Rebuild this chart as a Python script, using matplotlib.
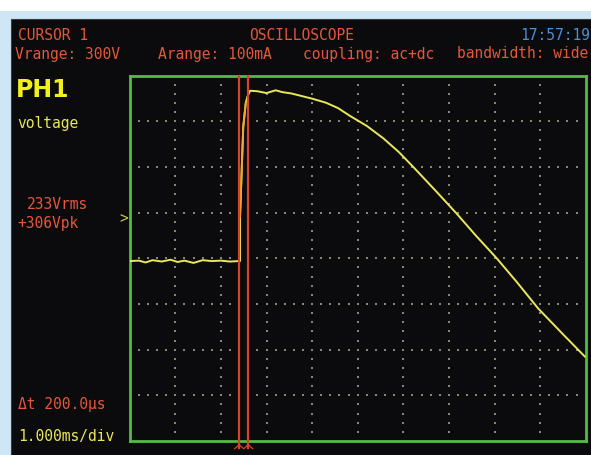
import matplotlib
matplotlib.use('Agg')
import matplotlib.pyplot as plt
from matplotlib.patches import Rectangle
import numpy as np

W, H = 591, 455

# trace: time in ms (1 ms/div), amplitude in divisions
t_ms = [0.0, 0.2, 0.35, 0.5, 0.7, 0.9, 1.05, 1.2, 1.4, 1.6, 1.8, 2.0, 2.2, 2.38,
        2.42, 2.42, 2.46, 2.49, 2.545, 2.58, 2.64, 2.8, 3.0, 3.2, 3.35, 3.55,
        3.99, 4.3, 4.57, 4.83, 5.2, 5.56, 5.9, 6.22, 6.7, 7.17, 7.59, 8.05, 8.49,
        8.96, 9.48, 9.98]
amp_div = [-0.06, -0.05, -0.09, -0.04, -0.07, -0.03, -0.08, -0.05, -0.1, -0.04,
           -0.06, -0.05, -0.07, -0.06,
           -0.06, 0.91, 2.04, 2.88, 3.40, 3.54, 3.67, 3.66, 3.62, 3.68, 3.64, 3.61,
           3.50, 3.41, 3.29, 3.12, 2.90, 2.63, 2.33, 2.00, 1.49, 0.98, 0.50, 0.0,
           -0.52, -1.10, -1.64, -2.15]

cursors_ms = [2.40, 2.60]

header = ['CURSOR 1', 'OSCILLOSCOPE', '17:57:19']
settings = ['Vrange: 300V', 'Arange: 100mA', 'coupling: ac+dc', 'bandwidth: wide']
readout = ['233Vrms', '+306Vpk']

RED = '#e4573b'
YEL = '#e9e85a'
GRN = '#4fbf3f'
DOT = '#7f8c70'

fig = plt.figure(figsize=(W / 100, H / 100), dpi=100)
fig.patch.set_facecolor('white')


def px(x, y):
    return x / W, 1 - y / H


# light blue frame and black screen
fig.patches.append(Rectangle((0, 0), 1, 1 - 11 / H, transform=fig.transFigure,
                             facecolor='#cfe6f7', edgecolor='none', zorder=-2))
fig.patches.append(Rectangle((11 / W, 0), 1, 1 - 19 / H, transform=fig.transFigure,
                             facecolor='#0b0b0d', edgecolor='#3a3a3a', lw=0.8, zorder=-1))

left, top, right, bottom = 129.7, 75.7, 585.7, 441.0
ax = fig.add_axes([left / W, 1 - bottom / H, (right - left) / W, (bottom - top) / H])
ax.set_zorder(2)
ax.set_facecolor('#0b0b0d')
ax.set_xlim(0, 10)
ax.set_ylim(-4, 4)
ax.set_xticks([])
ax.set_yticks([])
for s in ax.spines.values():
    s.set_color(GRN)
    s.set_linewidth(2)

# dotted graticule
steps = np.arange(0.2, 10, 0.2)
for gx in range(1, 10):
    ys = steps[steps < 8] - 4
    ax.plot(np.full_like(ys, gx), ys, 's', ms=1.6, color=DOT, mew=0)
for gy in range(-3, 4):
    ax.plot(steps, np.full_like(steps, gy), 's', ms=1.6, color=DOT, mew=0)

# trace
ax.plot(t_ms, amp_div, color=YEL, lw=1.4, zorder=3)
ax.plot(t_ms[15:19], amp_div[15:19], color='#f2a52a', lw=1.4, zorder=4)

# cursors
for c in cursors_ms:
    ax.plot([c, c], [4, -4.15], color='#d2442c', lw=1.6, zorder=5, clip_on=False)
cm = sum(cursors_ms) / 2
ax.plot([cm - 0.2, cm - 0.1, cm, cm + 0.1, cm + 0.2],
        [-4.17, -4.08, -4.17, -4.08, -4.17], color='#d2442c', lw=0.9, clip_on=False)

font = dict(family='DejaVu Sans Mono', fontsize=10.5)

fig.text(*px(18, 35), header[0], color=RED, va='center', **font)
fig.text(*px(302, 35), header[1], color=RED, va='center', ha='center', **font)
fig.text(*px(590, 35), header[2], color='#4d8fd6', va='center', ha='right', **font)

fig.text(*px(15, 54), settings[0], color=RED, va='center', **font)
fig.text(*px(158, 54), settings[1], color=RED, va='center', **font)
fig.text(*px(303, 54), settings[2], color=RED, va='center', **font)
fig.text(*px(457, 54), settings[3], color=RED, va='center', **font)

fig.text(*px(16, 90), 'PH1', color='#f2f01a', va='center', family='DejaVu Sans',
         fontsize=17, fontweight='bold')
fig.text(*px(17, 124), 'voltage', color=YEL, va='center', **font)

fig.text(*px(27, 205), readout[0], color=RED, va='center', **font)
fig.text(*px(17, 223), readout[1], color=RED, va='center', **font)
fig.text(*px(119, 219), '>', color='#c9c34a', va='center', **font)

fig.text(*px(18, 404), '\u0394t 200.0\u00b5s', color=RED, va='center', **font)
fig.text(*px(18, 436), '1.000ms/div', color=YEL, va='center', **font)

fig.savefig('out.png', dpi=100, facecolor=fig.get_facecolor())
